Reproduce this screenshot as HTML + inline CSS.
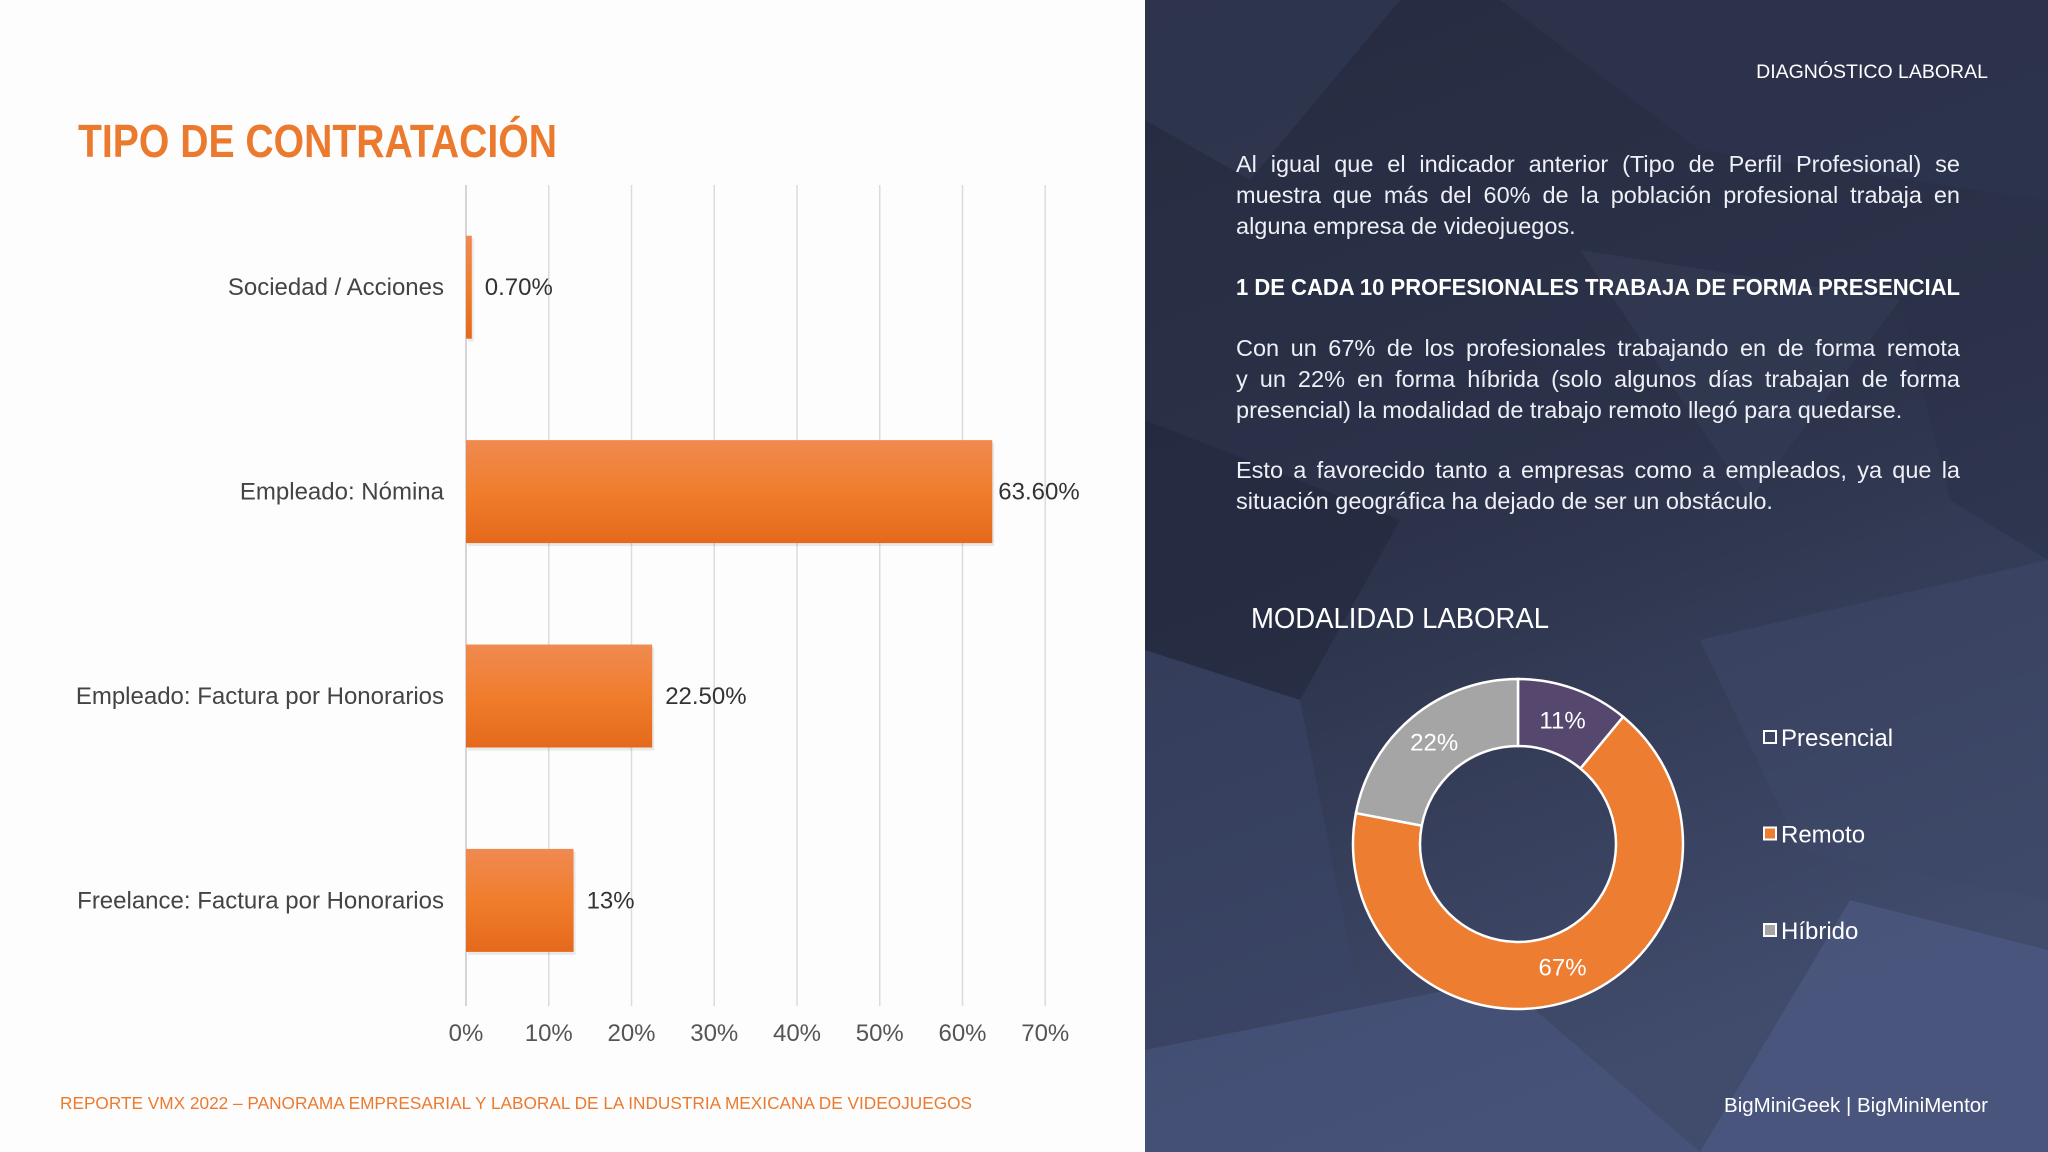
<!DOCTYPE html>
<html><head><meta charset="utf-8">
<style>
html,body{margin:0;padding:0;}
body{width:2048px;height:1152px;overflow:hidden;position:relative;background:#fdfdfd;font-family:"Liberation Sans",sans-serif;}
svg{position:absolute;left:0;top:0;}
.para{position:absolute;left:1236px;width:724px;color:#eef0f6;font-size:23.5px;line-height:31px;}
.para div{text-align:justify;text-align-last:justify;white-space:nowrap;}
.para div.last{text-align-last:left;}
</style></head>
<body>
<svg width="2048" height="1152" viewBox="0 0 2048 1152">
  <defs>
    <linearGradient id="barg" x1="0" y1="0" x2="0" y2="1">
      <stop offset="0" stop-color="#f08a51"/>
      <stop offset="0.5" stop-color="#f07d2c"/>
      <stop offset="1" stop-color="#e5691c"/>
    </linearGradient>
    <linearGradient id="bgg" x1="0" y1="0" x2="0.3" y2="1">
      <stop offset="0" stop-color="#262b40"/>
      <stop offset="0.5" stop-color="#2b3249"/>
      <stop offset="1" stop-color="#414b6c"/>
    </linearGradient>
  </defs>
  <!-- left white panel -->
  <rect x="0" y="0" width="1145" height="1152" fill="#fdfdfd"/>
  <!-- right dark panel -->
  <g>
    <rect x="1145" y="0" width="903" height="1152" fill="url(#bgg)"/>
    <polygon points="1145,0 1400,0 1250,180 1145,120" fill="#323a55" opacity="0.6"/>
    <polygon points="1500,0 2048,0 2048,200 1700,150" fill="#2f3650" opacity="0.6"/>
    <polygon points="1145,420 1400,520 1300,700 1145,650" fill="#20253a" opacity="0.5"/>
    <polygon points="1145,650 1300,700 1360,1000 1145,1050" fill="#3a4466" opacity="0.6"/>
    <polygon points="1700,640 2048,560 2048,900 1800,850" fill="#3d4767" opacity="0.6"/>
    <polygon points="1145,1050 1500,980 1700,1152 1145,1152" fill="#4a5680" opacity="0.6"/>
    <polygon points="1700,1152 1850,900 2048,950 2048,1152" fill="#51608c" opacity="0.5"/>
    <polygon points="1580,250 1900,300 1750,500" fill="#353d58" opacity="0.5"/>
    <polygon points="1900,300 2048,250 2048,560 1950,500" fill="#2a3047" opacity="0.5"/>
  </g>
  <text x="78" y="157" fill="#ec7a2e" font-size="46" font-weight="bold" textLength="479" lengthAdjust="spacingAndGlyphs">TIPO DE CONTRATACIÓN</text>
  <g id="grid"></g>
  <g id="bars"></g>
  <g id="labels"></g>
  <g id="ticks"></g>
  <text x="60" y="1109" fill="#ec7a2e" font-size="17.5" textLength="912" lengthAdjust="spacingAndGlyphs">REPORTE VMX 2022 – PANORAMA EMPRESARIAL Y LABORAL DE LA INDUSTRIA MEXICANA DE VIDEOJUEGOS</text>

  <text x="1988" y="78" text-anchor="end" fill="#ffffff" font-size="19.5">DIAGNÓSTICO LABORAL</text>
  <text x="1236" y="295" fill="#ffffff" font-size="23" font-weight="bold" textLength="724" lengthAdjust="spacingAndGlyphs">1 DE CADA 10 PROFESIONALES TRABAJA DE FORMA PRESENCIAL</text>
  <text x="1251" y="628" fill="#ffffff" font-size="29" textLength="298" lengthAdjust="spacingAndGlyphs">MODALIDAD LABORAL</text>
  <g id="donut"></g>
  <g id="legend"></g>
  <text x="1988" y="1112" text-anchor="end" fill="#ffffff" font-size="20.5">BigMiniGeek  |  BigMiniMentor</text>
</svg>

<div class="para" style="top:149px">
  <div>Al igual que el indicador anterior (Tipo de Perfil Profesional) se</div>
  <div>muestra que más del 60% de la población profesional trabaja en</div>
  <div class="last">alguna empresa de videojuegos.</div>
</div>
<div class="para" style="top:333px">
  <div>Con un 67% de los profesionales trabajando en de forma remota</div>
  <div>y un 22% en forma híbrida (solo algunos días trabajan de forma</div>
  <div class="last">presencial) la modalidad de trabajo remoto llegó para quedarse.</div>
</div>
<div class="para" style="top:455px">
  <div>Esto a favorecido tanto a empresas como a empleados, ya que la</div>
  <div class="last">situación geográfica ha dejado de ser un obstáculo.</div>
</div>

<script>
const categories = ["Sociedad / Acciones","Empleado: Nómina","Empleado: Factura por Honorarios","Freelance: Factura por Honorarios"];
const values = [0.7, 63.6, 22.5, 13];
const valueLabels = ["0.70%","63.60%","22.50%","13%"];
const tickValues = [0,10,20,30,40,50,60,70];
const tickLabels = ["0%","10%","20%","30%","40%","50%","60%","70%"];
const donutLabels = ["Presencial","Remoto","Híbrido"];
const donutValues = [11, 67, 22];
const donutColors = ["#56476f","#ed7d31","#a5a5a5"];
const legendColors = ["#ffffff","#ed7d31","#a5a5a5"];

const NS="http://www.w3.org/2000/svg";
function mk(tag, attrs, parent){const e=document.createElementNS(NS,tag);for(const k in attrs)e.setAttribute(k,attrs[k]);parent.appendChild(e);return e;}
const x0=466, xPer=82.75, plotTop=185, plotBot=1006, band=204.4, barH=103;
const xs=v=>x0+v*xPer/10;
const yc=i=>plotTop+band*(i+0.5);

const grid=document.getElementById('grid');
tickValues.forEach((t,i)=>{
  const l=mk('line',{x1:xs(t),x2:xs(t),y1:plotTop,y2:plotBot,stroke:i===0?'#c8c8c8':'#dcdcdc','stroke-width':1.5},grid);
  
  
});
const ticks=document.getElementById('ticks');
tickValues.forEach((t,i)=>{
  const tx=mk('text',{x:xs(t),y:1041,'text-anchor':'middle',fill:'#555','font-size':24},ticks);
  tx.textContent=tickLabels[i];
  
  
});
const bars=document.getElementById('bars');
const labels=document.getElementById('labels');
categories.forEach((c,i)=>{
  const y=yc(i)-barH/2;
  const w=Math.max(xs(values[i])-x0,2);
  mk('rect',{x:x0+2,y:y+3,width:w,height:barH,fill:'#000',opacity:0.08},bars);
  const r=mk('rect',{x:x0,y:y,width:w,height:barH,fill:'url(#barg)'},bars);
  
  
  const v=mk('text',{x:x0+w+(i===1?6:13),y:yc(i)+8,fill:'#333','font-size':24},bars);
  v.textContent=valueLabels[i];
  
  
  const cl=mk('text',{x:444,y:yc(i)+8,'text-anchor':'end',fill:'#444','font-size':24},labels);
  cl.textContent=c;
  
  
});

// donut
const cx=1518, cy=844, ro=165, ri=98;
const donut=document.getElementById('donut');
const total=donutValues.reduce((a,b)=>a+b,0);
let acc=0;
function pt(r,a){return [cx+r*Math.sin(a), cy-r*Math.cos(a)];}
donutValues.forEach((v,i)=>{
  const a0=acc/total*2*Math.PI; acc+=v; const a1=acc/total*2*Math.PI;
  const large=(a1-a0)>Math.PI?1:0;
  const [x1,y1]=pt(ro,a0),[x2,y2]=pt(ro,a1),[x3,y3]=pt(ri,a1),[x4,y4]=pt(ri,a0);
  const p=mk('path',{d:`M${x1},${y1} A${ro},${ro} 0 ${large} 1 ${x2},${y2} L${x3},${y3} A${ri},${ri} 0 ${large} 0 ${x4},${y4} Z`,fill:donutColors[i],stroke:'#ffffff','stroke-width':2.5},donut);
  
  
  const am=(a0+a1)/2; const [lx,ly]=pt((ro+ri)/2,am);
  const t=mk('text',{x:lx,y:ly+8,'text-anchor':'middle',fill:'#ffffff','font-size':24},donut);
  t.textContent=v+'%';
  
  
});
const legend=document.getElementById('legend');
donutLabels.forEach((n,i)=>{
  const y=738+i*96.5;
  const s=mk('rect',{x:1764,y:y-7,width:12,height:12,fill:legendColors[i],stroke:'#ffffff','stroke-width':2},legend);
  
  
  if(i===0){s.setAttribute('fill','none');}
  const t=mk('text',{x:1781,y:y+8,fill:'#ffffff','font-size':24},legend);
  t.textContent=n;
  
  
});
</script>
</body></html>
